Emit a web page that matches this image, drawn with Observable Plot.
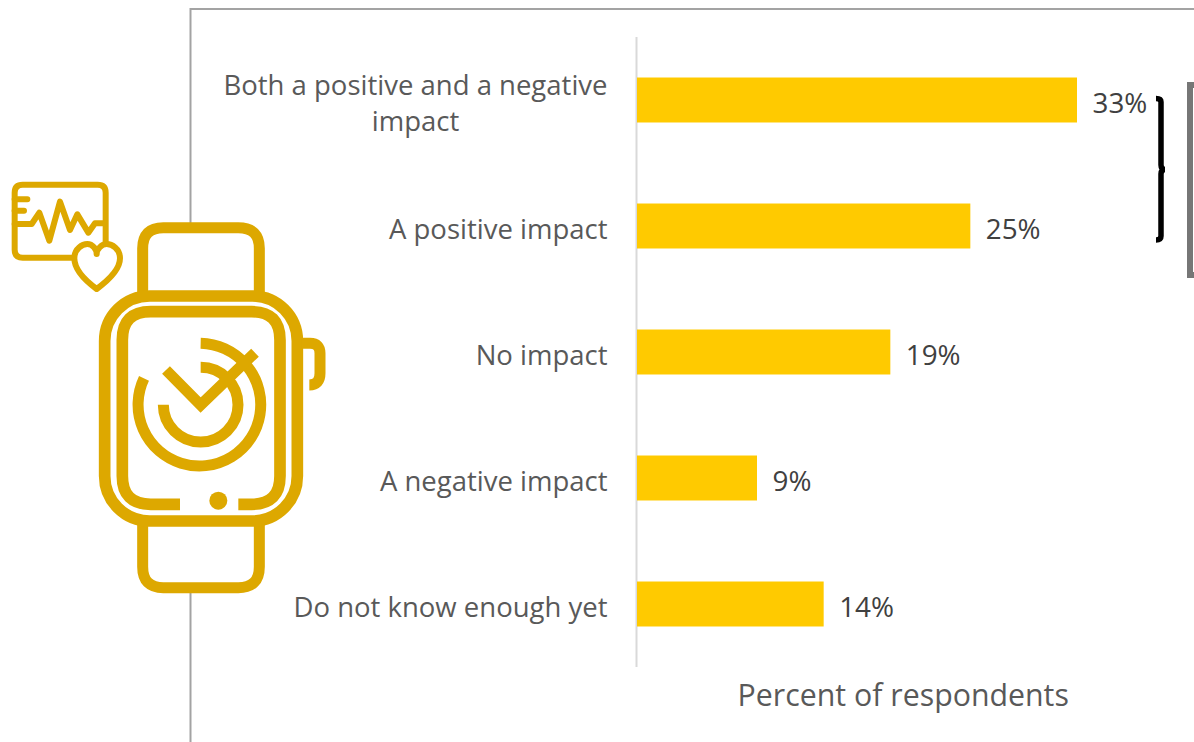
<!DOCTYPE html>
<html><head><meta charset="utf-8">
<style>
html,body{margin:0;padding:0;background:#fff;overflow:hidden}
#wrap{position:relative;width:1194px;height:742px}
#wrap svg{position:absolute;left:0;top:0}
#chart svg{font-family:"Open Sans",sans-serif}
</style>
<script src="https://cdn.jsdelivr.net/npm/d3@7"></script>
<script src="https://cdn.jsdelivr.net/npm/@observablehq/plot@0.6"></script>
</head><body>
<div id="wrap">
<svg width="1194" height="742" viewBox="0 0 1194 742" aria-hidden="true">
  <path d="M190.5 742V9H1194" fill="none" stroke="#a3a3a3" stroke-width="2"/>
  <rect x="1190" y="85" width="100" height="190" fill="none" stroke="#767676" stroke-width="6"/>
  <path d="M1156 98.500Q1161 98.500 1161 102V165Q1161 169.500 1165 169.500Q1161 169.500 1161 174V236Q1161 240 1156 240" fill="none" stroke="#000" stroke-width="5.500"/>
  <g transform="translate(0 170) scale(.33333)" fill="none" stroke="#DDA800" stroke-width="33">
    <path fill="#fff" d="M428 378V235Q428 173 490 173H715Q778 173 778 235V378"/>
    <path fill="#fff" d="M428 1050V1190Q428 1253 490 1253H715Q778 1253 778 1190V1050"/>
    <rect fill="#fff" x="314" y="378" width="578" height="675" rx="135" stroke-width="35"/>
    <path d="M540 1003H452Q367 1003 367 918V510Q367 425 452 425H755Q840 425 840 510V918Q840 1003 755 1003H715" stroke-width="35"/>
    <circle cx="655" cy="992" r="27" fill="#DDA800" stroke="none"/>
    <path d="M905 520H930Q960 520 960 550V610Q960 645 928 645"/>
    <path d="M602 520A184 184 0 1 1 432 625"/>
    <path d="M602 592A112 112 0 1 1 490 704"/>
    <path d="M498 600L602 705L765 548"/>
    <g stroke-width="18" stroke-linecap="round" stroke-linejoin="round">
      <path d="M215 263H68Q44 263 44 239V68Q44 44 68 44H293Q317 44 317 68V215"/>
      <path d="M44 88H82M44 122H72M44 162H95L118 128L148 212L180 95L210 180L232 133L265 188L285 160H310"/>
      <path fill="#fff" d="M290 357C260 335 223 300 223 265C223 235 248 222 262 222C278 222 290 238 290 252C290 238 305 222 320 222C335 222 360 235 360 265C360 300 320 335 290 357Z"/>
    </g>
  </g>
</svg>
<div id="chart"></div>
</div>
<script>
const categories = ["Both a positive and a negative\nimpact", "A positive impact", "No impact", "A negative impact", "Do not know enough yet"];
const values = [33, 25, 19, 9, 14];
const axisTitle = "Percent of respondents";
const rows = categories.map((category, i) => ({category, value: values[i]}));
const wrapped = rows.filter(d => d.category.includes("\n"));
const single = rows.filter(d => !d.category.includes("\n"));

const chart = Plot.plot({
  width: 1194,
  height: 742,
  marginTop: 37,
  marginBottom: 75,
  marginLeft: 637,
  marginRight: 117,
  style: {background: "transparent"},
  x: {domain: [0, 33], axis: null},
  y: {domain: categories, axis: null, paddingInner: 0.643, paddingOuter: 0.3215, round: false},
  marks: [
    Plot.ruleX([0], {stroke: "#d9d9d9", strokeWidth: 2, dx: -1}),
    Plot.barX(rows, {x: "value", y: "category", fill: "#FFCA00"}),
    Plot.text(rows, {x: "value", y: "category", text: d => d.value + "%", textAnchor: "start", dx: 15, dy: 4, fontSize: 27.8, fill: "#404040"}),
    Plot.text(single, {x: 0, y: "category", text: "category", textAnchor: "end", dx: -30, dy: 4, fontSize: 27.5, fill: "#595959"}),
    Plot.text(wrapped, {x: 0, y: "category", text: "category", textAnchor: "middle", dx: -222, dy: 1, lineHeight: 1.31, fontSize: 27.5, fill: "#595959"}),
    Plot.text([axisTitle], {x: 19.93, frameAnchor: "bottom", text: d => d, textAnchor: "middle", dy: 38, fontSize: 30.3, fill: "#595959"})
  ]
});
document.getElementById("chart").appendChild(chart);
</script>
</body></html>
